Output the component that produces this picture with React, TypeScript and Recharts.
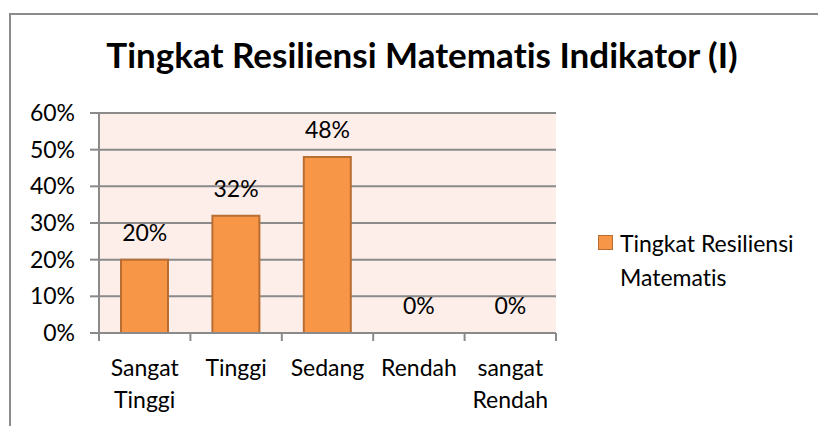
import { ComposedChart, Bar, Scatter, XAxis, YAxis, CartesianGrid } from "recharts";

// chart data
const categories = ["Sangat Tinggi", "Tinggi", "Sedang", "Rendah", "sangat Rendah"];
const resiliensi = [0.2, 0.32, 0.48, 0, 0];
const yTicks = [0, 0.1, 0.2, 0.3, 0.4, 0.5, 0.6];
const seriesName = "Tingkat Resiliensi Matematis";
const title = "Tingkat Resiliensi Matematis Indikator (I)";

const data = categories.map((name, i) => ({ name, value: resiliensi[i] }));

const FONT = "Lato, 'Open Sans', sans-serif";
const FS = 23;
const ORANGE = "#F79646";
const ORANGE_EDGE = "#B86E33";
const GRID = "#8A8A8A";
const NO_LIGA = { fontVariantLigatures: "none" as const, fontFeatureSettings: '"liga" 0, "clig" 0' };

const W = 818;
const H = 426;
const PLOT_LEFT = 99;
const PLOT_RIGHT = 556;
const PLOT_TOP = 113;
const PLOT_BOTTOM = 333;
const X_AXIS_H = 80;
const BAND = (PLOT_RIGHT - PLOT_LEFT) / categories.length;

const pct = (v: number) => `${Math.round(v * 100)}%`;

// category tick: boundary tick marks + label split over lines
function CategoryTick({ x, y, payload, index }: any) {
  const lines = String(payload.value).split(" ");
  const last = index === categories.length - 1;
  return (
    <g>
      <line x1={x - BAND / 2} x2={x - BAND / 2} y1={y} y2={y + 8} stroke={GRID} strokeWidth={2} />
      {last && (
        <line x1={x + BAND / 2} x2={x + BAND / 2} y1={y} y2={y + 8} stroke={GRID} strokeWidth={2} />
      )}
      <text x={x} y={y + 43} textAnchor="middle" fontSize={FS} fontFamily={FONT} fill="#000" style={NO_LIGA}>
        {lines.map((l, i) => (
          <tspan key={i} x={x} dy={i === 0 ? 0 : 32}>
            {l}
          </tspan>
        ))}
      </text>
    </g>
  );
}

// value label above each bar (also for the zero bars)
function ValueLabel({ cx, cy, payload }: any) {
  return (
    <text x={cx} y={cy - 19} textAnchor="middle" fontSize={FS} fontFamily={FONT} fill="#000">
      {pct(payload.value)}
    </text>
  );
}

export default function App() {
  return (
    <div style={{ position: "absolute", left: 0, top: 0, width: W, height: H, background: "#fff", overflow: "hidden" }}>
      <div
        style={{
          position: "absolute",
          left: 9,
          top: 13,
          width: W,
          height: H,
          borderLeft: "2px solid #8C8C8C",
          borderTop: "2px solid #8C8C8C",
        }}
      />
      <div
        style={{
          position: "absolute",
          left: 0,
          width: 844,
          top: 33,
          textAlign: "center",
          fontFamily: FONT,
          fontWeight: 700,
          fontSize: 35,
          lineHeight: "42px",
          color: "#000",
          ...NO_LIGA,
        }}
      >
        {title}
      </div>
      <div style={{ position: "absolute", left: 0, top: 0 }}>
        <ComposedChart
          width={W}
          height={H}
          data={data}
          margin={{ top: PLOT_TOP, right: W - PLOT_RIGHT, bottom: H - PLOT_BOTTOM - X_AXIS_H, left: 0 }}
        >
          <CartesianGrid vertical={false} stroke={GRID} strokeWidth={2} fill="#FDEEEA" fillOpacity={1} />
          <XAxis
            dataKey="name"
            height={X_AXIS_H}
            axisLine={{ stroke: GRID, strokeWidth: 2 }}
            tickLine={false}
            tickSize={0}
            tickMargin={0}
            interval={0}
            tick={<CategoryTick />}
          />
          <YAxis
            width={PLOT_LEFT}
            domain={[0, 0.6]}
            ticks={yTicks}
            tickFormatter={pct}
            axisLine={{ stroke: GRID, strokeWidth: 2 }}
            tickLine={{ stroke: GRID, strokeWidth: 2 }}
            tickSize={9}
            tickMargin={15}
            tick={{ fill: "#000", fontSize: FS, fontFamily: FONT }}
          />
          <Bar
            dataKey="value"
            name={seriesName}
            fill={ORANGE}
            stroke={ORANGE_EDGE}
            strokeWidth={2}
            barSize={47}
            isAnimationActive={false}
          />
          <Scatter dataKey="value" shape={<ValueLabel />} isAnimationActive={false} />
        </ComposedChart>
      </div>
      <div
        style={{
          position: "absolute",
          left: 598,
          top: 226,
          fontFamily: FONT,
          fontSize: FS,
          lineHeight: "34px",
          color: "#000",
          ...NO_LIGA,
        }}
      >
        <div
          style={{
            position: "absolute",
            left: 0,
            top: 9,
            width: 13,
            height: 13,
            background: ORANGE,
            border: `1px solid ${ORANGE_EDGE}`,
          }}
        />
        <div style={{ marginLeft: 22, width: 200 }}>
          Tingkat Resiliensi
          <br />
          Matematis
        </div>
      </div>
    </div>
  );
}
